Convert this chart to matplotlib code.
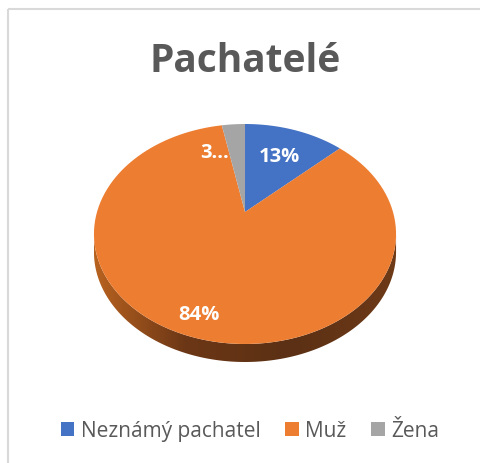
import numpy as np
import matplotlib.pyplot as plt
from matplotlib.patches import Polygon, Rectangle, Patch
from matplotlib.colors import LinearSegmentedColormap

# data
kategorie = ["Neznámý pachatel", "Muž", "Žena"]
hodnoty = [13, 84, 3]
popisky = ["13%", "84%", "3..."]
barvy = ["#4472C4", "#ED7D31", "#A5A5A5"]

plt.rcParams["font.family"] = ["Open Sans", "DejaVu Sans"]
plt.rcParams["hatch.linewidth"] = 1.5
plt.rcParams["hatch.color"] = "#E2E2E2"

# geometrie 3D kolace (v pixelech) - perspektiva
cx, cy = 245, 213
R, A, k = 148, 105.6, 0.2
hloubka = 18
r_popisku = [0.65, 0.85, 0.65]


def bod(theta, r=1.0):
    u = r * np.sin(theta)
    v = r * np.cos(theta)
    w = 1 + k * v
    return cx + R * u / w, cy - A * v / w


fig = plt.figure(figsize=(4.8, 4.64), dpi=100)
ax = fig.add_axes([0, 0, 1, 1])
ax.set_xlim(0, 480)
ax.set_ylim(464, 0)
ax.axis("off")

# pozadi s jemnym srafovanim
ax.add_patch(Rectangle((8, 10), 490, 470, facecolor="white", edgecolor="none",
                       hatch="\\" * 12, zorder=0))
ax.add_patch(Rectangle((8, 10), 490, 470, facecolor="none", edgecolor="#D9D9D9",
                       lw=1.5, zorder=1))

# bocni stena kolace
t0 = np.arccos(-k)
ts = np.linspace(t0, 2 * np.pi - t0, 200)
horni = np.array([bod(t) for t in ts])
dolni = horni.copy()
dolni[:, 1] += hloubka
stena = Polygon(np.vstack([horni, dolni[::-1]]), closed=True,
                facecolor="none", edgecolor="none")
ax.add_patch(stena)
cmap = LinearSegmentedColormap.from_list(
    "stena", [(0, "#B8621F"), (0.3, "#6C3716"), (0.65, "#5B3014"), (1, "#6E3A18")])
grad = np.linspace(0, 1, 256).reshape(1, -1)
im = ax.imshow(grad, cmap=cmap, extent=(horni[:, 0].min(), horni[:, 0].max(),
                                        dolni[:, 1].max(), cy), aspect="auto", zorder=2)
im.set_clip_path(stena)

# horni plocha
celkem = sum(hodnoty)
start = 0.0
for h, barva, txt, rp in zip(hodnoty, barvy, popisky, r_popisku):
    konec = start + 2 * np.pi * h / celkem
    oblouk = np.array([bod(t) for t in np.linspace(start, konec, 120)])
    ax.add_patch(Polygon(np.vstack([[cx, cy], oblouk]), closed=True,
                         facecolor=barva, edgecolor="none", zorder=3))
    mid = (start + konec) / 2
    x, y = bod(mid, rp)
    ha = "center"
    if txt.endswith("..."):
        x, y = bod(start, rp)
        ha = "right"
    ax.text(x, y, txt, ha=ha, va="center", color="white", fontsize=14.5,
            fontweight="bold", zorder=4)
    start = konec

# nadpis
ax.text(245, 62, "Pachatelé", ha="center", va="center", fontsize=28,
        fontweight="bold", color="#595959")

# legenda
ax.add_patch(Rectangle((36, 410), 419, 43, facecolor="white", edgecolor="none", zorder=1))
handles = [Patch(facecolor=b, edgecolor="none", label=c) for b, c in zip(barvy, kategorie)]
fig.legend(handles=handles, loc="center", bbox_to_anchor=(250 / 480, 1 - 432 / 464),
           ncol=3, frameon=False, fontsize=15, handlelength=0.65, handleheight=0.65,
           handletextpad=0.3, columnspacing=1.2, labelcolor="#595959")

fig.savefig("out.png", dpi=100, facecolor="white")
